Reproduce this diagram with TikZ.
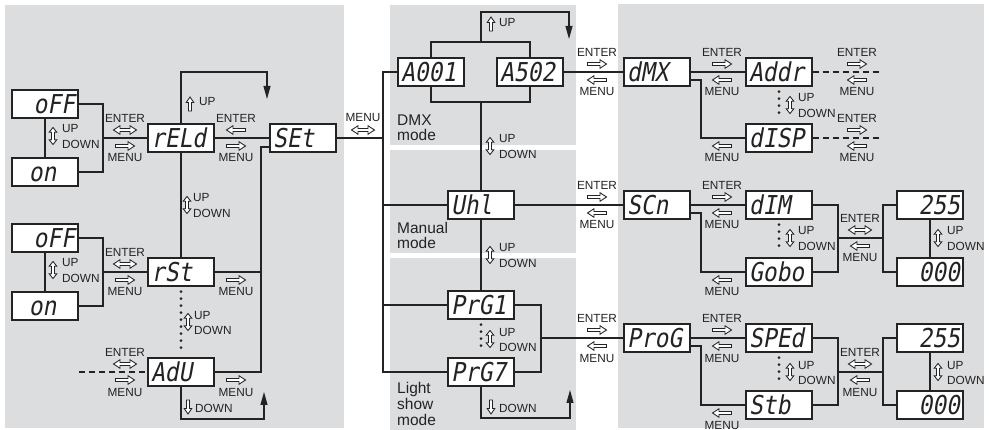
\documentclass[tikz,border=0pt]{standalone}
\usepackage{fontspec}
\setmainfont{Liberation Sans}
\newfontfamily\segfont{DejaVu Sans Mono}[FakeSlant=0.18,FakeStretch=0.88]
\usetikzlibrary{arrows.meta}
\definecolor{panel}{RGB}{220,221,223}
\definecolor{ink}{RGB}{35,35,35}
\tikzset{
  conn/.style={draw=ink, line width=1.1pt},
  disp/.style={draw=ink, line width=1.1pt, fill=white, minimum width=66pt, minimum height=28pt,
    inner sep=0pt, text width=60pt, text=ink, font=\segfont\fontsize{26}{26}\selectfont,
    execute at begin node={\vphantom{Ed}}},
  dispL/.style={disp, align=left},
  dispR/.style={disp, align=right},
  lbl/.style={font=\fontsize{11.8}{12}\selectfont, text=ink, inner sep=0pt},
  modelbl/.style={font=\fontsize{15.5}{16}\selectfont, text=ink, inner sep=0pt, anchor=base west},
  dots/.style={draw=ink, line width=3pt, line cap=round, dash pattern=on 0pt off 7pt, shorten >=5pt, shorten <=5pt},
  dashline/.style={draw=ink, line width=1.1pt, dash pattern=on 6pt off 4pt},
  harw/.style={draw=ink, line width=0.85pt, fill=white, line join=miter},
  ret/.style={conn, -{Triangle[length=13pt,width=7pt]}},
  pR/.pic={\path[harw] (-9.5,-1.5) -- (3,-1.5) -- (3,-4.3) -- (9.5,0) -- (3,4.3) -- (3,1.5) -- (-9.5,1.5) -- cycle;},
  pL/.pic={\path[harw] (9.5,-1.5) -- (-3,-1.5) -- (-3,-4.3) -- (-9.5,0) -- (-3,4.3) -- (-3,1.5) -- (9.5,1.5) -- cycle;},
  pLR/.pic={\path[harw] (-11.5,0) -- (-5,-4.3) -- (-5,-1.5) -- (5,-1.5) -- (5,-4.3) -- (11.5,0) -- (5,4.3) -- (5,1.5) -- (-5,1.5) -- (-5,4.3) -- cycle;},
  pUD/.pic={\path[harw] (0,-8.5) -- (3.8,-3.8) -- (1.5,-3.8) -- (1.5,3.8) -- (3.8,3.8) -- (0,8.5) -- (-3.8,3.8) -- (-1.5,3.8) -- (-1.5,-3.8) -- (-3.8,-3.8) -- cycle;},
  pU/.pic={\path[harw] (0,-7) -- (3.8,-1.5) -- (1.5,-1.5) -- (1.5,7) -- (-1.5,7) -- (-1.5,-1.5) -- (-3.8,-1.5) -- cycle;},
  pD/.pic={\path[harw] (0,7) -- (3.8,1.5) -- (1.5,1.5) -- (1.5,-7) -- (-1.5,-7) -- (-1.5,1.5) -- (-3.8,1.5) -- cycle;},
}
\newcommand\EMgrp[5]{%
  \node[lbl] (#1e) at (#2,#3-20) {ENTER};
  \pic at (#2,#3-8) {#4};
  \pic at (#2,#3+8) {#5};
  \node[lbl] (#1m) at (#2,#3+20) {MENU};}
\newcommand\Mgrp[4]{%
  \pic at (#2,#3+8) {#4};
  \node[lbl] (#1m) at (#2,#3+20) {MENU};}
\newcommand\UDgrp[4]{%
  \pic at (#2,#3) {pUD};
  \node[lbl, anchor=west] (#1u) at (#4,#3-7) {UP};
  \node[lbl, anchor=west] (#1d) at (#4,#3+8) {DOWN};}
\begin{document}
\begin{tikzpicture}[x=1pt,y=-1pt]
\useasboundingbox (0,0) rectangle (989,430);
% panels
\fill[panel] (5,5) rectangle (344,428);
\fill[panel] (390,5) rectangle (576,145);
\fill[panel] (390,150) rectangle (576,253);
\fill[panel] (390,258) rectangle (576,430);
\fill[panel] (618,4) rectangle (984,428);

% ---------- boxes ----------
\node[dispR] (off1) at (45,104) {oFF};
\node[dispL] (on1) at (45,172) {\phantom{0}on};
\node[dispL] (reld) at (181,138) {rELd};
\node[dispL] (set) at (303,138) {SEt};
\node[dispR] (off2) at (45,238) {oFF};
\node[dispL] (on2) at (45,306) {\phantom{0}on};
\node[dispL] (rst) at (181,272) {rSt};
\node[dispL] (adu) at (181,372) {AdU};

\node[dispL] (a001) at (431,72) {A001};
\node[dispL] (a502) at (530,72) {A502};
\node[dispL] (uhl) at (481,205) {Uhl};
\node[dispL] (prg1) at (481,305) {PrG1};
\node[dispL] (prg7) at (481,372) {PrG7};

\node[dispL] (dmx) at (657,72) {dMX};
\node[dispL] (addr) at (779,72) {Addr};
\node[dispL] (disp) at (779,138) {dISP};
\node[dispL] (scn) at (657,205) {SCn};
\node[dispL] (dim) at (779,205) {dIM};
\node[dispL] (gobo) at (779,272) {Gobo};
\node[dispR] (va255) at (930,205) {255};
\node[dispR] (va000) at (930,272) {000};
\node[dispL] (prog) at (657,338) {ProG};
\node[dispL] (sped) at (779,338) {SPEd};
\node[dispL] (stb) at (779,405) {Stb};
\node[dispR] (vb255) at (930,338) {255};
\node[dispR] (vb000) at (930,405) {000};

% ---------- coordinates ----------
\coordinate (b1) at (103,138);
\coordinate (b2) at (103,272);
\coordinate (rtop) at (181,72);
\coordinate (rtip) at (267,99);
\coordinate (vbot) at (261,372);
\coordinate (adl) at (79,372);
\coordinate (abot) at (181,419);
\coordinate (atip) at (264,392);
\coordinate (mv) at (383,138);
\coordinate (mvt) at (383,72);
\coordinate (mvb) at (383,372);
\coordinate (at) at (481,42);
\coordinate (ttop) at (481,12);
\coordinate (ttip) at (569,39);
\coordinate (ab) at (481,102);
\coordinate (pb) at (541,338);
\coordinate (pbot) at (481,418);
\coordinate (ptip) at (570,390);
\coordinate (d1) at (701,138);
\coordinate (d2) at (701,272);
\coordinate (d3) at (701,405);
\coordinate (adre) at (880,72);
\coordinate (dspe) at (880,138);
\coordinate (c1) at (838,238);
\coordinate (c2) at (883,238);
\coordinate (c3) at (838,372);
\coordinate (c4) at (883,372);

% ---------- connectors ----------
\draw[conn] (off1.east) -| (b1) |- (on1.east);
\draw[conn] (b1) -- (reld.west);
\draw[conn] (off1.south) -- (on1.north);
\draw[conn] (off2.east) -| (b2) |- (on2.east);
\draw[conn] (b2) -- (rst.west);
\draw[conn] (off2.south) -- (on2.north);
\draw[conn] (reld.east) -- (set.west);
\draw[ret] (reld.north) -- (rtop) -| (rtip);
\draw[conn] (reld.south) -- (rst.north);
\draw[conn] ([yshift=-9pt]set.west) -| (vbot) -- (adu.east);
\draw[conn] (rst.east) -- (rst.east -| vbot);
\draw[dots] (rst.south) -- (adu.north);
\draw[dashline] (adl) -- (adu.west);
\draw[ret] (adu.south) -- (abot) -| (atip);
\draw[conn] (set.east) -- (mv);
\draw[conn] (a001.west) -- (mvt) -- (mvb) -- (prg7.west);
\draw[conn] (uhl.west) -- (uhl.west -| mvt);
\draw[conn] (prg1.west) -- (prg1.west -| mvt);
\draw[conn] (a001.north) |- (at) -| (a502.north);
\draw[ret] (at) -- (ttop) -| (ttip);
\draw[conn] (a001.south) |- (ab) -| (a502.south);
\draw[conn] (ab) -- (uhl.north);
\draw[conn] (uhl.south) -- (prg1.north);
\draw[dots] (prg1.south) -- (prg7.north);
\draw[conn] (prg1.east) -| (pb) |- (prg7.east);
\draw[conn] (pb) -- (prog.west);
\draw[ret] (prg7.south) -- (pbot) -| (ptip);
\draw[conn] (a502.east) -- (dmx.west);
\draw[conn] (uhl.east) -- (scn.west);

\draw[conn] (dmx.east) -- (addr.west);
\draw[conn] ([yshift=-8pt]dmx.east) -| (d1) -- (disp.west);
\draw[dots] (addr.south) -- (disp.north);
\draw[dashline] (addr.east) -- (adre);
\draw[dashline] (disp.east) -- (dspe);

\draw[conn] (scn.east) -- (dim.west);
\draw[conn] ([yshift=-8pt]scn.east) -| (d2) -- (gobo.west);
\draw[dots] (dim.south) -- (gobo.north);
\draw[conn] (dim.east) -| (c1) |- (gobo.east);
\draw[conn] (c1) -- (c2);
\draw[conn] (va255.west) -| (c2) |- (va000.west);
\draw[conn] (va255.south) -- (va000.north);

\draw[conn] (prog.east) -- (sped.west);
\draw[conn] ([yshift=-8pt]prog.east) -| (d3) -- (stb.west);
\draw[dots] (sped.south) -- (stb.north);
\draw[conn] (sped.east) -| (c3) |- (stb.east);
\draw[conn] (c3) -- (c4);
\draw[conn] (vb255.west) -| (c4) |- (vb000.west);
\draw[conn] (vb255.south) -- (vb000.north);

% ---------- labels ----------
\EMgrp{la}{125}{138}{pLR}{pR}
\UDgrp{ua}{53}{136}{62}
\EMgrp{lb}{125}{272}{pLR}{pR}
\UDgrp{ub}{53}{270}{62}
\EMgrp{lc}{236}{138}{pL}{pR}
\UDgrp{uc}{187}{205}{193}
\Mgrp{md}{236}{272}{pR}
\UDgrp{ud}{188}{322}{194}
\EMgrp{le}{125}{372}{pLR}{pR}
\Mgrp{mf}{236}{372}{pR}
\pic at (190,104) {pU};
\node[lbl, anchor=west] (upa) at (199,102) {UP};
\pic at (188,407) {pD};
\node[lbl, anchor=west] (dna) at (195,408) {DOWN};
\node[lbl] (mset) at (363,118) {MENU};
\pic at (363,130) {pLR};

\pic at (491,24) {pU};
\node[lbl, anchor=west] (upb) at (499,23) {UP};
\UDgrp{ug}{490}{146}{499}
\UDgrp{uh}{490}{255}{499}
\UDgrp{ui}{490}{339}{499}
\pic at (491,407) {pD};
\node[lbl, anchor=west] (dnb) at (499,408) {DOWN};

\node[modelbl] (dmx1) at (397,126) {DMX};
\node[modelbl] (dmx2) at (397,141) {mode};
\node[modelbl] (man1) at (397,234) {Manual};
\node[modelbl] (man2) at (397,249) {mode};
\node[modelbl] (lig1) at (397,394) {Light};
\node[modelbl] (lig2) at (397,410) {show};
\node[modelbl] (lig3) at (397,426) {mode};

\EMgrp{lj}{597}{72}{pR}{pL}
\EMgrp{lk}{597}{205}{pR}{pL}
\EMgrp{ll}{597}{338}{pR}{pL}
\EMgrp{lm}{722}{72}{pR}{pL}
\Mgrp{mn}{722}{138}{pL}
\EMgrp{lo}{857}{72}{pR}{pL}
\EMgrp{lp}{857}{138}{pR}{pL}
\EMgrp{lq}{722}{205}{pR}{pL}
\Mgrp{mr}{722}{272}{pL}
\EMgrp{ls}{722}{338}{pR}{pL}
\Mgrp{mt}{722}{405}{pL}
\UDgrp{uu}{790}{105}{798}
\UDgrp{uv}{790}{238}{798}
\UDgrp{uw}{790}{372}{798}
\EMgrp{lx}{860}{238}{pLR}{pL}
\EMgrp{ly}{860}{372}{pLR}{pL}
\UDgrp{uy}{938}{238}{947}
\UDgrp{uz}{938}{372}{947}
\end{tikzpicture}
\end{document}
